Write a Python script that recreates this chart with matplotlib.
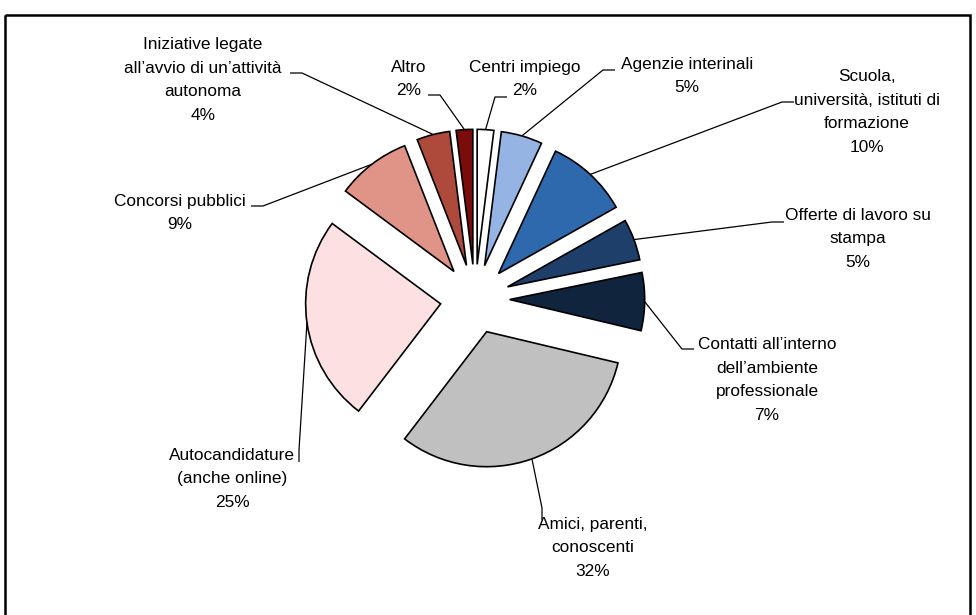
import numpy as np
import matplotlib
matplotlib.use("Agg")
import matplotlib.pyplot as plt
from matplotlib import font_manager
from matplotlib.patches import Rectangle

# canali di ricerca del lavoro, in senso orario dalle ore 12
categories = [
    "Centri impiego",
    "Agenzie interinali",
    "Scuola,\nuniversità, istituti di\nformazione",
    "Offerte di lavoro su\nstampa",
    "Contatti all\u2019interno\ndell\u2019ambiente\nprofessionale",
    "Amici, parenti,\nconoscenti",
    "Autocandidature\n(anche online)",
    "Concorsi pubblici",
    "Iniziative legate\nall\u2019avvio di un\u2019attività\nautonoma",
    "Altro",
]
shares = [2, 5, 10, 5, 7, 32, 25, 9, 4, 2]
colors = ["#ffffff", "#95b3e3", "#2e69ad", "#1f3f6b", "#10243e",
          "#c0c0c0", "#fde0e1", "#e09487", "#ae4a3c", "#7b0c0c"]

# label layout (image pixels): text centre, elbow of leader, side of tick
label_pos = [(525, 79), (687, 76), (867, 112), (858, 239), (767, 380),
             (593, 548), (232, 479), (180, 213), (203, 80), (409, 79)]
elbows = [(495, 97), (603, 70), (782, 102), (772, 222), (682, 349),
          (542, 508), (299, 450), (263, 206), (302, 73), (440, 95)]
tick_dir = [(1, 0), (1, 0), (1, 0), (1, 0), (1, 0),
            (0, 1), (0, 1), (-1, 0), (-1, 0), (-1, 0)]

W, H = 976, 615
R = 135
names = {f.name for f in font_manager.fontManager.ttflist}
family = next(f for f in ["Liberation Sans Narrow", "Liberation Sans",
                          "DejaVu Sans"] if f in names)
plt.rcParams["font.family"] = family

fig = plt.figure(figsize=(W / 100, H / 100), dpi=100)
ax = fig.add_axes([0, 0, 1, 1])

# y axis runs downward (image coordinates), so counterclock=True turns clockwise
# explode is in data units here, so scale by the radius
wedges, _ = ax.pie(shares, colors=colors, startangle=-90, counterclock=True,
                   radius=R, center=(475, 299),
                   explode=[0.257 * R] * len(shares),
                   wedgeprops=dict(edgecolor="black", linewidth=1.2))

for w, name, v, (tx, ty), (ex, ey), (dx, dy) in zip(
        wedges, categories, shares, label_pos, elbows, tick_dir):
    mid = np.deg2rad((w.theta1 + w.theta2) / 2)
    cx, cy = w.center
    px, py = cx + w.r * np.cos(mid), cy + w.r * np.sin(mid)
    ax.plot([px, ex, ex + 12 * dx], [py, ey, ey + 12 * dy],
            color="black", lw=0.9, solid_capstyle="butt")
    ax.text(tx, ty, f"{name}\n{v}%", ha="center", va="center",
            multialignment="center", fontsize=12.4, linespacing=1.72)

ax.add_patch(Rectangle((5, 15), 965, 620, fill=False, edgecolor="black",
                       linewidth=1.8, clip_on=False))

ax.set_xlim(0, W)
ax.set_ylim(H, 0)
ax.set_aspect("auto")
ax.axis("off")

fig.savefig("out.png", dpi=100)
plt.close(fig)
